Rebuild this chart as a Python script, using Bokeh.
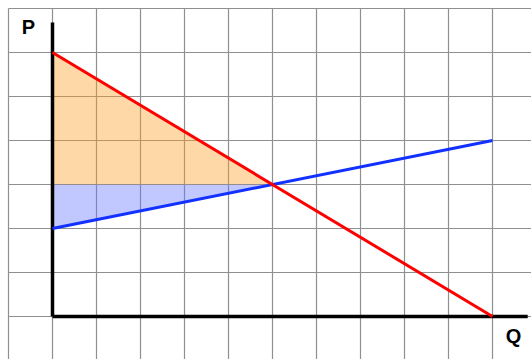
from bokeh.plotting import figure
from bokeh.models import Range1d, Label
from bokeh.embed import file_html
from bokeh.resources import INLINE

# Data (grid units)
demand_q = [0, 10]
demand_p = [6, 0]
supply_q = [0, 10]
supply_p = [2, 4]
eq_q, eq_p = 5, 3
cs_q = [0, 0, eq_q]
cs_p = [6, eq_p, eq_p]
ps_q = [0, 0, eq_q]
ps_p = [eq_p, 2, eq_p]
grid_x = list(range(-1, 12))
grid_y = list(range(-1, 8))

W, H = 531, 359
cell = 44.0
off = 8 / cell
xs, yt = -1.0 - off, 7.0 + off
p = figure(width=W, height=H, output_backend="svg", toolbar_location=None,
           x_range=Range1d(xs, xs + W / cell), y_range=Range1d(yt - H / cell, yt),
           min_border=0, outline_line_color=None)
p.xaxis.visible = False
p.yaxis.visible = False
p.xgrid.visible = False
p.ygrid.visible = False

gcol = "#8f8f8f"
p.segment(x0=grid_x, y0=[-1.0] * len(grid_x), x1=grid_x, y1=[7.0] * len(grid_x),
          line_color=gcol, line_width=1.2)
p.segment(x0=[-1.0] * len(grid_y), y0=grid_y, x1=[12.0] * len(grid_y), y1=grid_y,
          line_color=gcol, line_width=1.2)

p.patch(cs_q, cs_p, fill_color=(255, 158, 38), fill_alpha=0.4, line_color=None)
p.patch(ps_q, ps_p, fill_color=(98, 118, 255), fill_alpha=0.4, line_color=None)

# axes
p.line([0, 0], [0, 6.68], line_color="black", line_width=3.5)
p.line([0, 10.8], [0, 0], line_color="black", line_width=3.5)

p.line(supply_q, supply_p, line_color="#1230ff", line_width=3)
p.line(demand_q, demand_p, line_color="#ff0000", line_width=3)

p.add_layout(Label(x=-0.55, y=6.57, text="P", text_font="Liberation Sans",
                   text_font_style="bold", text_font_size="20px", text_color="black",
                   text_align="center", text_baseline="middle"))
p.add_layout(Label(x=10.48, y=-0.45, text="Q", text_font="Liberation Sans",
                   text_font_style="bold", text_font_size="20px", text_color="black",
                   text_align="center", text_baseline="middle"))

open("out.html", "w").write(file_html(p, INLINE))
